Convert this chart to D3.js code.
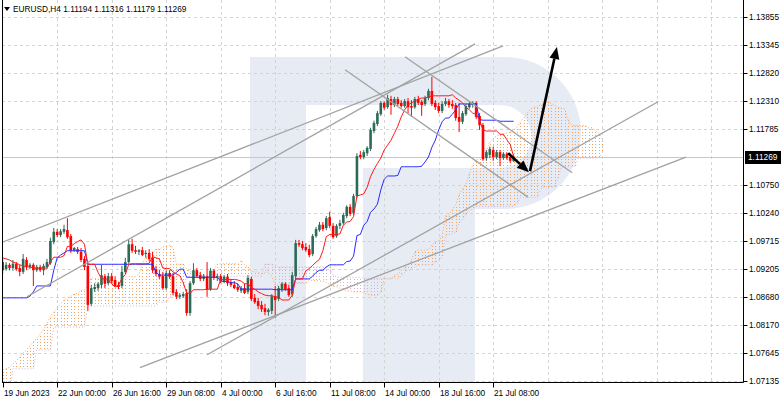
<!DOCTYPE html>
<html><head><meta charset="utf-8">
<script src="https://cdn.jsdelivr.net/npm/d3@7"></script>
<style>
body{margin:0;background:#fff}
svg{display:block}
text{font-family:"Liberation Sans",Arial,sans-serif;font-size:8.3px;fill:#000}
</style>
</head><body>
<svg id="chart" width="782" height="402"></svg>
<script>
// ---------------- DATA ----------------
const symbolTitle = "EURUSD,H4  1.11194 1.11316 1.11179 1.11269";
const dateLabels = ["19 Jun 2023","22 Jun 00:00","26 Jun 16:00","29 Jun 08:00","4 Jul 00:00","6 Jul 16:00","11 Jul 08:00","14 Jul 00:00","18 Jul 16:00","21 Jul 08:00"];
const dateLabelBars = [0,16,32,48,64,80,96,112,128,144];
const gridBars = [16,32,48,64,80,96,112,128,144,160,176,192,208];
const priceTicks = [1.13855,1.13345,1.12820,1.12310,1.11785,1.10750,1.10240,1.09715,1.09205,1.08680,1.08170,1.07645,1.07135];
const lastPrice = 1.11269;

const open = [1.0933,1.0920,1.0928,1.0922,1.0930,1.0922,1.0915,1.0937,1.0924,1.0928,
1.0918,1.0924,1.0918,1.0924,1.0931,1.0970,1.0989,1.0983,1.0989,1.0992,
1.0981,1.0955,1.0957,1.0952,1.0939,1.0926,1.0856,1.0883,1.0885,1.0891,
1.0907,1.0894,1.0907,1.0900,1.0891,1.0889,1.0915,1.0933,1.0966,1.0955,
1.0952,1.0955,1.0948,1.0950,1.0941,1.0920,1.0911,1.0907,1.0885,1.0913,
1.0907,1.0878,1.0869,1.0870,1.0876,1.0839,1.0894,1.0918,1.0909,1.0902,
1.0907,1.0883,1.0917,1.0904,1.0907,1.0898,1.0906,1.0896,1.0891,1.0887,
1.0880,1.0885,1.0878,1.0902,1.0867,1.0861,1.0854,1.0848,1.0841,1.0843,
1.0870,1.0865,1.0883,1.0893,1.0885,1.0874,1.0907,1.0968,1.0966,1.0961,
1.0957,1.0948,1.0981,1.0992,1.1002,1.0996,1.1016,1.1000,1.0981,1.1000,
1.1005,1.1018,1.1035,1.1024,1.1055,1.1131,1.1127,1.1134,1.1142,1.1175,
1.1188,1.1206,1.1227,1.1219,1.1234,1.1223,1.1234,1.1227,1.1221,1.1230,
1.1221,1.1219,1.1234,1.1229,1.1225,1.1236,1.1249,1.1227,1.1221,1.1212,
1.1225,1.1230,1.1225,1.1223,1.1201,1.1192,1.1206,1.1219,1.1223,1.1227,
1.1203,1.1186,1.1125,1.1131,1.1140,1.1127,1.1136,1.1125,1.1133,1.1127,
1.11194];
const high = [1.0941,1.0933,1.0931,1.0937,1.0933,1.0928,1.0948,1.0942,1.0931,1.0931,
1.0928,1.0928,1.0930,1.0939,1.0978,1.0996,1.0994,1.0994,1.1002,1.1014,
1.0985,1.0961,1.0961,1.0959,1.0944,1.0931,1.0891,1.0894,1.0896,1.0928,
1.0911,1.0913,1.0913,1.0907,1.0896,1.0926,1.0941,1.0974,1.0976,1.0963,
1.0957,1.0961,1.0955,1.0957,1.0952,1.0926,1.0918,1.0915,1.0917,1.0918,
1.0913,1.0883,1.0876,1.0878,1.0883,1.0898,1.0931,1.0922,1.0915,1.0911,
1.0933,1.0922,1.0920,1.0911,1.0911,1.0909,1.0911,1.0902,1.0898,1.0893,
1.0889,1.0893,1.0909,1.0906,1.0874,1.0867,1.0861,1.0856,1.0848,1.0874,
1.0889,1.0889,1.0896,1.0896,1.0891,1.0915,1.0974,1.0974,1.0972,1.0968,
1.0965,1.0985,1.0998,1.1007,1.1007,1.1018,1.1026,1.1005,1.1003,1.1011,
1.1024,1.1038,1.1040,1.1059,1.1134,1.1138,1.1140,1.1147,1.1181,1.1194,
1.1212,1.1230,1.1230,1.1242,1.1240,1.1238,1.1238,1.1232,1.1234,1.1236,
1.1232,1.1238,1.1240,1.1232,1.1240,1.1253,1.1275,1.1232,1.1227,1.1230,
1.1236,1.1234,1.1232,1.1227,1.1227,1.1212,1.1225,1.1229,1.1230,1.1230,
1.1208,1.1190,1.1140,1.1146,1.1146,1.1140,1.1140,1.1136,1.1136,1.1133,
1.11316];
const low = [1.0911,1.0917,1.0918,1.0917,1.0917,1.0907,1.0911,1.0918,1.0920,1.0889,
1.0915,1.0915,1.0909,1.0920,1.0928,1.0966,1.0979,1.0979,1.0985,1.0976,
1.0950,1.0952,1.0948,1.0933,1.0918,1.0843,1.0852,1.0878,1.0880,1.0885,
1.0885,1.0891,1.0894,1.0887,1.0883,1.0885,1.0911,1.0930,1.0950,1.0948,
1.0946,1.0944,1.0941,1.0935,1.0913,1.0907,1.0902,1.0882,1.0882,1.0902,
1.0872,1.0865,1.0865,1.0867,1.0834,1.0834,1.0891,1.0904,1.0898,1.0898,
1.0869,1.0880,1.0900,1.0898,1.0894,1.0894,1.0889,1.0887,1.0883,1.0878,
1.0876,1.0874,1.0874,1.0861,1.0856,1.0846,1.0841,1.0835,1.0834,1.0837,
1.0830,1.0861,1.0878,1.0880,1.0869,1.0869,1.0902,1.0961,1.0955,1.0952,
1.0942,1.0944,1.0978,1.0989,1.0990,1.0992,1.0996,1.0976,1.0978,1.0994,
1.1002,1.1014,1.1018,1.1020,1.1051,1.1123,1.1123,1.1129,1.1138,1.1171,
1.1184,1.1203,1.1214,1.1216,1.1205,1.1219,1.1221,1.1218,1.1218,1.1208,
1.1201,1.1216,1.1223,1.1203,1.1221,1.1232,1.1221,1.1214,1.1208,1.1208,
1.1221,1.1218,1.1216,1.1194,1.1173,1.1188,1.1203,1.1216,1.1218,1.1197,
1.1177,1.1120,1.1120,1.1125,1.1120,1.1123,1.1110,1.1122,1.1122,1.1116,
1.11179];
const close = [1.0918,1.0928,1.0922,1.0930,1.0920,1.0915,1.0939,1.0924,1.0928,1.0918,
1.0924,1.0918,1.0926,1.0933,1.0972,1.0989,1.0983,1.0990,1.0994,1.0979,
1.0954,1.0959,1.0952,1.0937,1.0924,1.0854,1.0885,1.0887,1.0893,1.0909,
1.0893,1.0907,1.0898,1.0889,1.0887,1.0915,1.0933,1.0966,1.0954,1.0952,
1.0955,1.0946,1.0950,1.0939,1.0918,1.0911,1.0906,1.0885,1.0913,1.0906,
1.0876,1.0869,1.0872,1.0874,1.0839,1.0894,1.0918,1.0907,1.0902,1.0907,
1.0882,1.0917,1.0904,1.0907,1.0898,1.0906,1.0894,1.0891,1.0885,1.0882,
1.0885,1.0876,1.0904,1.0865,1.0859,1.0852,1.0846,1.0841,1.0845,1.0870,
1.0863,1.0885,1.0893,1.0883,1.0872,1.0909,1.0968,1.0965,1.0959,1.0955,
1.0946,1.0981,1.0994,1.1002,1.0994,1.1014,1.1000,1.0979,1.1000,1.1005,
1.1020,1.1035,1.1022,1.1055,1.1129,1.1127,1.1136,1.1144,1.1177,1.1190,
1.1208,1.1227,1.1218,1.1236,1.1223,1.1234,1.1225,1.1221,1.1230,1.1219,
1.1218,1.1234,1.1227,1.1223,1.1236,1.1249,1.1225,1.1219,1.1212,1.1225,
1.1230,1.1223,1.1221,1.1199,1.1192,1.1208,1.1221,1.1225,1.1227,1.1201,
1.1186,1.1123,1.1136,1.1142,1.1127,1.1136,1.1125,1.1133,1.1125,1.1120,
1.11269];

const tenkan = [1.0941,1.0939,1.0937,1.0933,1.0931,1.0928,1.0926,1.0924,1.0924,1.0922,
1.0922,1.0922,1.0922,1.0922,1.0933,1.0942,1.0942,1.0942,1.0945,1.0962,
1.0962,1.0967,1.0971,1.0974,1.0966,1.0929,1.0929,1.0929,1.0914,1.0902,
1.0902,1.0901,1.0893,1.0887,1.0890,1.0903,1.0910,1.0929,1.0930,1.0930,
1.0930,1.0930,1.0930,1.0931,1.0943,1.0941,1.0939,1.0922,1.0921,1.0921,
1.0915,1.0911,1.0908,1.0895,1.0876,1.0875,1.0882,1.0882,1.0882,1.0882,
1.0883,1.0883,1.0883,1.0883,1.0901,1.0901,1.0901,1.0901,1.0901,1.0900,
1.0898,1.0893,1.0893,1.0886,1.0883,1.0878,1.0875,1.0872,1.0871,1.0871,
1.0869,1.0868,1.0863,1.0863,1.0863,1.0872,1.0902,1.0902,1.0902,1.0917,
1.0921,1.0927,1.0933,1.0938,1.0954,1.0980,1.0984,1.0984,1.0984,1.0985,
1.1001,1.1007,1.1008,1.1017,1.1055,1.1057,1.1059,1.1071,1.1091,1.1104,
1.1115,1.1125,1.1140,1.1149,1.1158,1.1171,1.1184,1.1201,1.1214,1.1223,
1.1227,1.1230,1.1234,1.1236,1.1236,1.1238,1.1240,1.1240,1.1240,1.1240,
1.1240,1.1240,1.1242,1.1236,1.1232,1.1227,1.1219,1.1214,1.1208,1.1206,
1.1195,1.1177,1.1175,1.1175,1.1175,1.1175,1.1169,1.1169,1.1159,1.1150,
1.1128];
const kijun = [1.0867,1.0867,1.0867,1.0867,1.0867,1.0867,1.0867,1.0867,1.0870,1.0878,
1.0889,1.0889,1.0889,1.0889,1.0889,1.0918,1.0941,1.0946,1.0950,1.0954,
1.0954,1.0954,1.0954,1.0954,1.0954,1.0929,1.0929,1.0929,1.0929,1.0929,
1.0929,1.0929,1.0929,1.0929,1.0929,1.0929,1.0929,1.0929,1.0929,1.0929,
1.0929,1.0929,1.0929,1.0929,1.0929,1.0914,1.0909,1.0909,1.0909,1.0909,
1.0909,1.0914,1.0920,1.0920,1.0905,1.0905,1.0905,1.0905,1.0905,1.0905,
1.0905,1.0905,1.0905,1.0905,1.0898,1.0897,1.0897,1.0895,1.0895,1.0893,
1.0883,1.0883,1.0883,1.0883,1.0883,1.0883,1.0883,1.0883,1.0883,1.0883,
1.0882,1.0882,1.0882,1.0882,1.0882,1.0882,1.0902,1.0902,1.0902,1.0902,
1.0902,1.0907,1.0914,1.0918,1.0918,1.0924,1.0928,1.0928,1.0928,1.0928,
1.0928,1.0934,1.0935,1.0944,1.0982,1.0984,1.1001,1.1008,1.1025,1.1031,
1.1040,1.1066,1.1086,1.1092,1.1092,1.1092,1.1093,1.1109,1.1109,1.1109,
1.1109,1.1109,1.1109,1.1110,1.1118,1.1127,1.1145,1.1158,1.1177,1.1192,
1.1199,1.1199,1.1206,1.1214,1.1225,1.1225,1.1225,1.1225,1.1225,1.1225,
1.1196,1.1195,1.1195,1.1195,1.1195,1.1195,1.1193,1.1193,1.1193,1.1193,
1.1193];
const spanA = [1.0734,1.0736,1.0739,1.0745,1.0750,1.0758,1.0765,1.0771,1.0778,1.0786,
1.0793,1.0800,1.0808,1.0820,1.0832,1.0841,1.0848,1.0856,1.0863,1.0867,
1.0870,1.0874,1.0876,1.0880,1.0882,1.0889,1.0904,1.0903,1.0902,1.0900,
1.0899,1.0897,1.0896,1.0895,1.0897,1.0900,1.0906,1.0906,1.0906,1.0906,
1.0911,1.0931,1.0942,1.0944,1.0948,1.0957,1.0957,1.0961,1.0963,1.0964,
1.0960,1.0929,1.0929,1.0929,1.0921,1.0915,1.0915,1.0915,1.0911,1.0907,
1.0909,1.0916,1.0919,1.0929,1.0930,1.0930,1.0930,1.0930,1.0930,1.0930,
1.0936,1.0928,1.0924,1.0916,1.0915,1.0915,1.0912,1.0913,1.0915,1.0907,
1.0891,1.0890,1.0893,1.0893,1.0893,1.0893,1.0894,1.0894,1.0894,1.0894,
1.0900,1.0899,1.0899,1.0898,1.0898,1.0896,1.0891,1.0888,1.0888,1.0885,
1.0883,1.0880,1.0880,1.0878,1.0878,1.0878,1.0876,1.0874,1.0872,1.0872,
1.0872,1.0877,1.0902,1.0902,1.0902,1.0909,1.0911,1.0917,1.0924,1.0928,
1.0937,1.0952,1.0955,1.0955,1.0955,1.0956,1.0965,1.0970,1.0972,1.0981,
1.1018,1.1020,1.1029,1.1039,1.1058,1.1068,1.1077,1.1096,1.1113,1.1121,
1.1125,1.1132,1.1138,1.1155,1.1161,1.1166,1.1168,1.1170,1.1171,1.1173,
1.1177,1.1182,1.1192,1.1199,1.1208,1.1216,1.1219,1.1219,1.1224,1.1225,
1.1229,1.1226,1.1222,1.1219,1.1217,1.1216,1.1195,1.1186,1.1185,1.1185,
1.1185,1.1185,1.1181,1.1181,1.1176,1.1171,1.1160];
const spanB = [1.0693,1.0693,1.0693,1.0736,1.0736,1.0736,1.0736,1.0736,1.0736,1.0736,
1.0771,1.0771,1.0771,1.0771,1.0771,1.0813,1.0813,1.0813,1.0813,1.0813,
1.0813,1.0813,1.0813,1.0813,1.0813,1.0852,1.0852,1.0852,1.0852,1.0852,
1.0852,1.0852,1.0852,1.0852,1.0852,1.0852,1.0852,1.0852,1.0852,1.0852,
1.0852,1.0852,1.0852,1.0852,1.0852,1.0852,1.0859,1.0859,1.0859,1.0870,
1.0870,1.0885,1.0885,1.0885,1.0907,1.0907,1.0907,1.0907,1.0907,1.0907,
1.0907,1.0907,1.0907,1.0907,1.0907,1.0907,1.0907,1.0907,1.0907,1.0907,
1.0907,1.0907,1.0907,1.0907,1.0907,1.0907,1.0907,1.0929,1.0929,1.0929,
1.0924,1.0924,1.0924,1.0924,1.0924,1.0924,1.0924,1.0924,1.0924,1.0924,
1.0924,1.0924,1.0924,1.0924,1.0924,1.0924,1.0924,1.0909,1.0905,1.0905,
1.0905,1.0905,1.0905,1.0905,1.0905,1.0905,1.0903,1.0903,1.0903,1.0903,
1.0903,1.0903,1.0903,1.0903,1.0903,1.0903,1.0902,1.0907,1.0914,1.0918,
1.0918,1.0924,1.0928,1.0928,1.0928,1.0928,1.0928,1.0934,1.0935,1.0944,
1.0982,1.0984,1.0985,1.0989,1.1005,1.1012,1.1021,1.1030,1.1030,1.1036,
1.1036,1.1036,1.1036,1.1036,1.1036,1.1036,1.1036,1.1036,1.1036,1.1036,
1.1036,1.1041,1.1052,1.1052,1.1052,1.1052,1.1052,1.1052,1.1068,1.1072,
1.1072,1.1072,1.1072,1.1088,1.1109,1.1109,1.1109,1.1109,1.1110,1.1125,
1.1125,1.1125,1.1125,1.1125,1.1125,1.1126,1.1134];

// drawn objects, in (bar index, price)
const trendLines = [
  [[-0.8,1.0968],[146.9,1.1332]],
  [[7.1,1.0869],[138.7,1.1336]],
  [[118.1,1.1312],[167.2,1.1098]],
  [[100.5,1.1288],[154.2,1.1053]],
  [[60.0,1.0762],[192.4,1.1229]],
  [[40.3,1.0738],[200.6,1.1127]]
];
const arrows = [
  [[148.4,1.1134],[154.5,1.1099]],
  [[154.8,1.1101],[162.7,1.1330]]
];

// ---------------- CHART ----------------
const svg = d3.select("#chart");
const plot = {left:2, right:743.5, top:0, bottom:382.5};
const x = d3.scaleLinear().domain([0,144]).range([2.7,493.2]);
const y = d3.scaleLinear().domain([1.07135,1.13855]).range([381,17]);

svg.append("rect").attr("width",782).attr("height",402).attr("fill","#fff");

const defs = svg.append("defs");
defs.append("clipPath").attr("id","clip").append("rect")
  .attr("x",plot.left).attr("y",plot.top).attr("width",plot.right-plot.left).attr("height",plot.bottom-plot.top);

const g = svg.append("g").attr("clip-path","url(#clip)");

// watermark logo
const wm = g.append("g").attr("fill","#e7ecf4");
wm.append("rect").attr("x",250).attr("y",57).attr("width",56).attr("height",330);
wm.append("path").attr("d","M306,57 L505,57 A76,76 0 0 1 505,209 L363,209 L363,168 L500,168 A31.5,31.5 0 0 0 500,105 L306,105 Z");
wm.append("path").attr("d","M363,209 L475,209 L475,387 L363,387 Z");

// grid
const grid = g.append("g").attr("stroke","#d4d4d4").attr("stroke-width",1).attr("stroke-dasharray","3,3");
grid.selectAll("line.v").data(gridBars).join("line")
  .attr("x1",d=>Math.round(x(d))+0.5).attr("x2",d=>Math.round(x(d))+0.5)
  .attr("y1",plot.top).attr("y2",plot.bottom);
grid.selectAll("line.h").data(priceTicks).join("line")
  .attr("x1",plot.left).attr("x2",plot.right)
  .attr("y1",d=>Math.round(y(d))+0.5).attr("y2",d=>Math.round(y(d))+0.5);

// last price line
g.append("line").attr("x1",plot.left).attr("x2",plot.right)
  .attr("y1",Math.round(y(lastPrice))+0.5).attr("y2",Math.round(y(lastPrice))+0.5)
  .attr("stroke","#c8c8c8").attr("stroke-width",1);

// Ichimoku cloud (hatched columns, crisp dots)
const upCloud = "#f4a460", downCloud = "#d2b0d6";
const cloudIdx = d3.range(spanA.length);
const cloud = g.append("g").attr("stroke-width",1).attr("stroke-dasharray","1,2");
const topY = i => Math.round(Math.min(y(spanA[i]),y(spanB[i])));
const botY = i => Math.round(Math.max(y(spanA[i]),y(spanB[i])));
cloud.selectAll("line").data(cloudIdx).join("line")
  .attr("x1",i=>Math.round(x(i))+0.5).attr("x2",i=>Math.round(x(i))+0.5)
  .attr("y1",topY).attr("y2",botY)
  .attr("stroke-dashoffset",i=>topY(i)%3)
  .attr("stroke",i=>spanA[i]>=spanB[i]?upCloud:downCloud);
const lineGen = arr => d3.line().x((d,i)=>x(i)).y(d=>y(d))(arr);
g.append("path").attr("d",lineGen(spanA)).attr("fill","none").attr("stroke",upCloud).attr("stroke-width",1).attr("stroke-dasharray","1,2");
g.append("path").attr("d",lineGen(spanB)).attr("fill","none").attr("stroke",downCloud).attr("stroke-width",1).attr("stroke-dasharray","1,2");

// candles
const bull = "#2e6b57", bear = "#ff0000";
const cIdx = d3.range(close.length);
const candles = g.append("g");
candles.selectAll("line").data(cIdx).join("line")
  .attr("x1",i=>x(i)).attr("x2",i=>x(i))
  .attr("y1",i=>y(high[i])).attr("y2",i=>y(low[i]))
  .attr("stroke",i=>close[i]>=open[i]?bull:bear).attr("stroke-width",1);
candles.selectAll("rect").data(cIdx).join("rect")
  .attr("x",i=>x(i)-1.3).attr("width",2.6)
  .attr("y",i=>Math.min(y(open[i]),y(close[i])))
  .attr("height",i=>Math.max(Math.abs(y(open[i])-y(close[i])),0.8))
  .attr("fill",i=>close[i]>=open[i]?bull:bear);

// Tenkan / Kijun
g.append("path").attr("d",lineGen(kijun)).attr("fill","none").attr("stroke","#2a2aff").attr("stroke-width",1);
g.append("path").attr("d",lineGen(tenkan)).attr("fill","none").attr("stroke","#ff1a1a").attr("stroke-width",1);

// trend lines
g.append("g").selectAll("line").data(trendLines).join("line")
  .attr("x1",d=>x(d[0][0])).attr("y1",d=>y(d[0][1]))
  .attr("x2",d=>x(d[1][0])).attr("y2",d=>y(d[1][1]))
  .attr("stroke","#a2a2a2").attr("stroke-width",1.3);

// arrows
const ag = g.append("g");
arrows.forEach(a=>{
  const x1=x(a[0][0]), y1=y(a[0][1]), x2=x(a[1][0]), y2=y(a[1][1]);
  const ang=Math.atan2(y2-y1,x2-x1), L=12, Wd=5;
  const bx=x2-L*Math.cos(ang), by=y2-L*Math.sin(ang);
  ag.append("line").attr("x1",x1).attr("y1",y1).attr("x2",bx).attr("y2",by)
    .attr("stroke","#000").attr("stroke-width",2.6);
  const px=-Math.sin(ang), py=Math.cos(ang);
  ag.append("path").attr("d",`M${x2},${y2} L${bx+px*Wd},${by+py*Wd} L${bx-px*Wd},${by-py*Wd} Z`).attr("fill","#000");
});

// frame & axes
svg.append("line").attr("x1",plot.left+0.5).attr("x2",plot.left+0.5).attr("y1",0).attr("y2",plot.bottom).attr("stroke","#000");
svg.append("line").attr("x1",plot.right).attr("x2",plot.right).attr("y1",0).attr("y2",plot.bottom).attr("stroke","#000");
svg.append("line").attr("x1",plot.left).attr("x2",plot.right).attr("y1",plot.bottom).attr("y2",plot.bottom).attr("stroke","#000");

const ya = svg.append("g");
priceTicks.forEach(p=>{
  const yy=Math.round(y(p))+0.5;
  ya.append("line").attr("x1",plot.right).attr("x2",plot.right+4).attr("y1",yy).attr("y2",yy).attr("stroke","#000");
  ya.append("text").attr("x",749).attr("y",yy).attr("dy","0.35em").text(p.toFixed(5));
});
const ly = Math.round(y(lastPrice))+0.5;
svg.append("rect").attr("x",745).attr("y",ly-6.5).attr("width",36).attr("height",13).attr("fill","#000");
svg.append("text").attr("x",748).attr("y",ly).attr("dy","0.35em").style("fill","#fff").text(lastPrice.toFixed(5));

const xa = svg.append("g");
dateLabelBars.forEach((b,k)=>{
  const xx=Math.round(x(b))+0.5;
  xa.append("line").attr("x1",xx).attr("x2",xx).attr("y1",plot.bottom).attr("y2",plot.bottom+5).attr("stroke","#000");
  xa.append("text").attr("x",xx+0.5).attr("y",396).text(dateLabels[k]);
});

// title
svg.append("path").attr("d","M4,7 L10,7 L7,11 Z").attr("fill","#000");
svg.append("text").attr("x",13).attr("y",12).text(symbolTitle);
</script>
</body></html>
